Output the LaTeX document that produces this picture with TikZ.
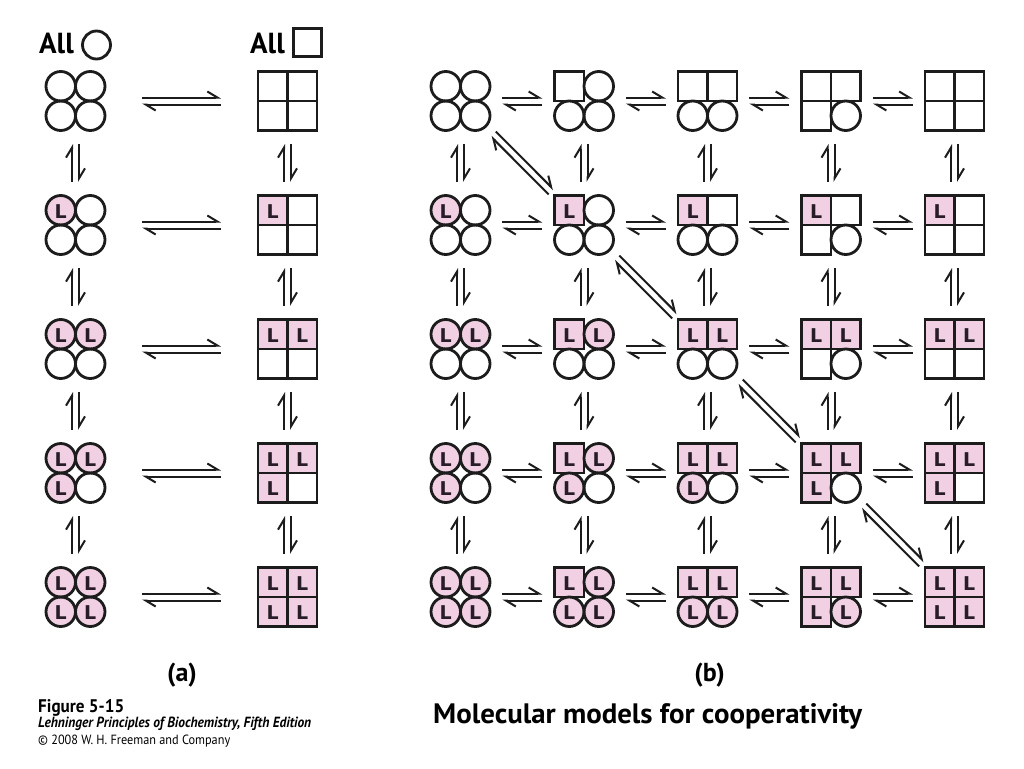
\documentclass[tikz,border=0pt]{standalone}
\usepackage{fontspec}
\setmainfont{PT Sans}
\newfontfamily\lfont{DejaVu Sans}
\usetikzlibrary{calc,arrows.meta}
\definecolor{lig}{RGB}{240,208,226}
\definecolor{ink}{RGB}{28,28,28}
\definecolor{ltext}{RGB}{40,28,40}
\tikzset{
  tetnode/.style={minimum size=62pt, inner sep=0pt},
  subline/.style={draw=ink, line width=2.8pt},
  ltr/.style={font=\lfont\bfseries\fontsize{19}{19}\selectfont, text=ltext, inner sep=0pt},
  harp/.style={draw=ink, line width=2pt, -{Straight Barb[harpoon, length=10pt, width=12pt]}},
  captxt/.style={anchor=base west, inner sep=0pt},
  lbl/.style={font=\bfseries\fontsize{26}{26}\selectfont, inner sep=0pt},
}
\newcommand\cellh{14.75}
% #1 name, #2 position, #3 number of square subunits, #4 number of bound ligands
\newcommand\tetra[4]{%
  \node[tetnode] (#1) at (#2) {};
  \foreach \p/\dx/\dy in {0/-1/-1,1/1/-1,2/-1/1,3/1/1}{%
    \pgfmathtruncatemacro\issq{\p<#3}%
    \pgfmathtruncatemacro\islig{\p<#4}%
    \ifnum\islig=1 \def\fc{lig}\else\def\fc{white}\fi
    \ifnum\issq=1
      \path[fill=\fc] ($(#1)+(\dx*\cellh-\cellh,\dy*\cellh-\cellh)$) rectangle ++(2*\cellh,2*\cellh);
    \else
      \path[fill=\fc] ($(#1)+(\dx*\cellh,\dy*\cellh)$) circle[radius=\cellh];
    \fi
  }%
  \foreach \p/\dx/\dy in {0/-1/-1,1/1/-1,2/-1/1,3/1/1}{%
    \pgfmathtruncatemacro\issq{\p<#3}%
    \pgfmathtruncatemacro\islig{\p<#4}%
    \ifnum\issq=1
      \path[subline] ($(#1)+(\dx*\cellh-\cellh,\dy*\cellh-\cellh)$) rectangle ++(2*\cellh,2*\cellh);
    \else
      \path[subline] ($(#1)+(\dx*\cellh,\dy*\cellh)$) circle[radius=\cellh];
    \fi
    \ifnum\islig=1
      \node[ltr] at ($(#1)+(\dx*\cellh,\dy*\cellh+1)$) {L};
    \fi
  }%
}
% equilibrium double harpoon between named nodes #1 and #2, from fraction #3 to #4
\newcommand\eqarr[4]{%
  \draw[harp] ($(#1)!#3!(#2)!3.5pt!90:(#2)$) -- ($(#1)!#4!(#2)!3.5pt!90:(#2)$);
  \draw[harp] ($(#1)!#4!(#2)!3.5pt!-90:(#2)$) -- ($(#1)!#3!(#2)!3.5pt!-90:(#2)$);
}
\begin{document}
\begin{tikzpicture}[x=1pt,y=-1pt]
\useasboundingbox[fill=white] (0,0) rectangle (1024,768);

% headers
\node[captxt, font=\bfseries\fontsize{29}{29}\selectfont] (allc) at (39,53) {All};
\node[circle, subline, minimum size=28pt, inner sep=0pt] (hcirc) at (96.5,45) {};
\node[captxt, font=\bfseries\fontsize{29}{29}\selectfont] (alls) at (250,53) {All};
\node[rectangle, subline, minimum size=28pt, inner sep=0pt] (hsq) at (307.5,42.5) {};

% panel (a)
\foreach \r in {0,...,4}{%
  \tetra{aL\r}{75.5, 101+124*\r}{0}{\r}
  \tetra{aR\r}{287.5, 101+124*\r}{4}{\r}
}
\foreach \r in {0,...,4}{\eqarr{aL\r}{aR\r}{0.314}{0.686}}
\foreach \r in {0,...,3}{%
  \pgfmathtruncatemacro\rn{\r+1}%
  \eqarr{aL\r}{aL\rn}{0.347}{0.653}
  \eqarr{aR\r}{aR\rn}{0.347}{0.653}
}

% panel (b)
\foreach \r in {0,...,4}{%
  \foreach \c in {0,...,4}{%
    \tetra{b\r\c}{460.5+123.5*\c, 101+124*\r}{\c}{\r}
  }
}
\foreach \r in {0,...,4}{%
  \foreach \c in {0,...,3}{%
    \pgfmathtruncatemacro\cn{\c+1}%
    \eqarr{b\r\c}{b\r\cn}{0.338}{0.662}
  }
}
\foreach \r in {0,...,3}{%
  \pgfmathtruncatemacro\rn{\r+1}%
  \foreach \c in {0,...,4}{%
    \eqarr{b\r\c}{b\rn\c}{0.347}{0.653}
  }
}
\foreach \r in {0,...,3}{%
  \pgfmathtruncatemacro\rn{\r+1}%
  \eqarr{b\r\r}{b\rn\rn}{0.266}{0.734}
}

% labels
\node[lbl] (la) at (182,675) {(a)};
\node[lbl] (lb) at (709.5,675) {(b)};
\node[captxt] (title) at (433,723) {\resizebox{429pt}{20pt}{\bfseries Molecular models for cooperativity}};
\node[captxt] (fig) at (38,712) {\resizebox{86pt}{13pt}{\bfseries Figure 5-15}};
\node[captxt] (leh) at (38,727) {\resizebox{273pt}{10.5pt}{\bfseries\itshape Lehninger Principles of Biochemistry, Fifth Edition}};
\node[captxt] (copy) at (38,744) {\resizebox{192pt}{9.5pt}{© 2008 W. H. Freeman and Company}};
\end{tikzpicture}
\end{document}
